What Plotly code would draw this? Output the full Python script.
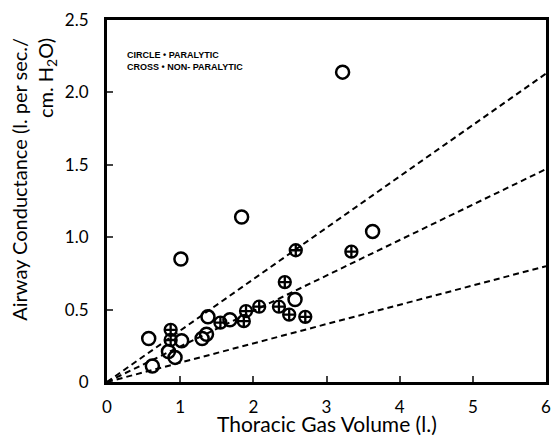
import plotly.graph_objects as go

# Paralytic (circles)
circle_x = [3.22, 1.84, 1.01, 3.63, 2.57, 0.57, 0.62, 0.84, 0.93, 1.02, 1.30, 1.36, 1.38, 1.68]
circle_y = [2.14, 1.14, 0.85, 1.04, 0.57, 0.30, 0.11, 0.21, 0.17, 0.285, 0.30, 0.33, 0.45, 0.43]

# Non-paralytic (crossed circles)
cross_x = [2.58, 3.34, 2.43, 0.87, 0.87, 1.55, 1.87, 1.90, 2.08, 2.35, 2.49, 2.71]
cross_y = [0.91, 0.90, 0.69, 0.36, 0.29, 0.41, 0.42, 0.49, 0.52, 0.52, 0.465, 0.45]

# Dashed reference lines from origin: value at x = 6
line_x_end = 6
line_y_ends = [2.13, 1.47, 0.80]

x_ticks = [0, 1, 2, 3, 4, 5, 6]
y_ticks = [0, 0.5, 1.0, 1.5, 2.0, 2.5]
y_tick_labels = ["0", "0.5", "1.0", "1.5", "2.0", "2.5"]

FONT = "Lato"

fig = go.Figure()

for yend in line_y_ends:
    fig.add_trace(go.Scatter(
        x=[0, line_x_end], y=[0, yend], mode="lines",
        line=dict(color="black", width=2, dash="6px,4px"),
        hoverinfo="skip", showlegend=False))

fig.add_trace(go.Scatter(
    x=circle_x, y=circle_y, mode="markers",
    marker=dict(symbol="circle-open", size=13, color="black", line=dict(width=2.5)),
    showlegend=False))

fig.add_trace(go.Scatter(
    x=cross_x, y=cross_y, mode="markers",
    marker=dict(symbol="circle-cross-open", size=12, color="black", line=dict(width=2.3)),
    showlegend=False))

fig.add_annotation(
    x=0.04, y=0.923, xref="paper", yref="paper", xanchor="left", yanchor="top",
    align="left", showarrow=False,
    text="<b>CIRCLE • PARALYTIC<br>CROSS • NON- PARALYTIC</b>",
    font=dict(family="Liberation Sans", size=9, color="black"))

# Axis titles as annotations
fig.add_annotation(
    x=0.5, y=0, xref="paper", yref="paper", xanchor="center", yanchor="top",
    yshift=-28, showarrow=False, borderpad=0,
    text="Thoracic Gas Volume (l.)",
    font=dict(family=FONT, size=21, color="black"))
fig.add_annotation(
    x=0, y=0.56, xref="paper", yref="paper", xanchor="right", yanchor="middle",
    xshift=-45, showarrow=False, textangle=-90, align="right",
    text="Airway Conductance (l. per sec./<br>cm. H<sub>2</sub>O)",
    font=dict(family=FONT, size=20, color="black"))

fig.update_layout(
    width=558, height=435,
    margin=dict(l=107, r=12, t=20, b=53),
    paper_bgcolor="white", plot_bgcolor="white",
    font=dict(family=FONT, color="black", size=17),
    xaxis=dict(
        range=[0, 6], tickvals=x_ticks, ticks="inside", ticklen=6, tickwidth=2,
        showline=True, linewidth=3, linecolor="black", mirror=True,
        showgrid=False, zeroline=False, automargin=False, ticklabelstandoff=8,
        ticklabeloverflow="allow",
        tickfont=dict(family=FONT, size=17)),
    yaxis=dict(
        range=[0, 2.5], tickvals=y_ticks, ticktext=y_tick_labels,
        ticks="inside", ticklen=6, tickwidth=2,
        showline=True, linewidth=3, linecolor="black", mirror=True,
        showgrid=False, zeroline=False, automargin=False, ticklabelstandoff=12,
        ticklabeloverflow="allow",
        tickfont=dict(family=FONT, size=17)),
)

# remove the default page margin so the figure sits at the window's top-left
fig.write_html("out.html", config={"displayModeBar": False},
               post_script="document.body.style.margin='0px';")
